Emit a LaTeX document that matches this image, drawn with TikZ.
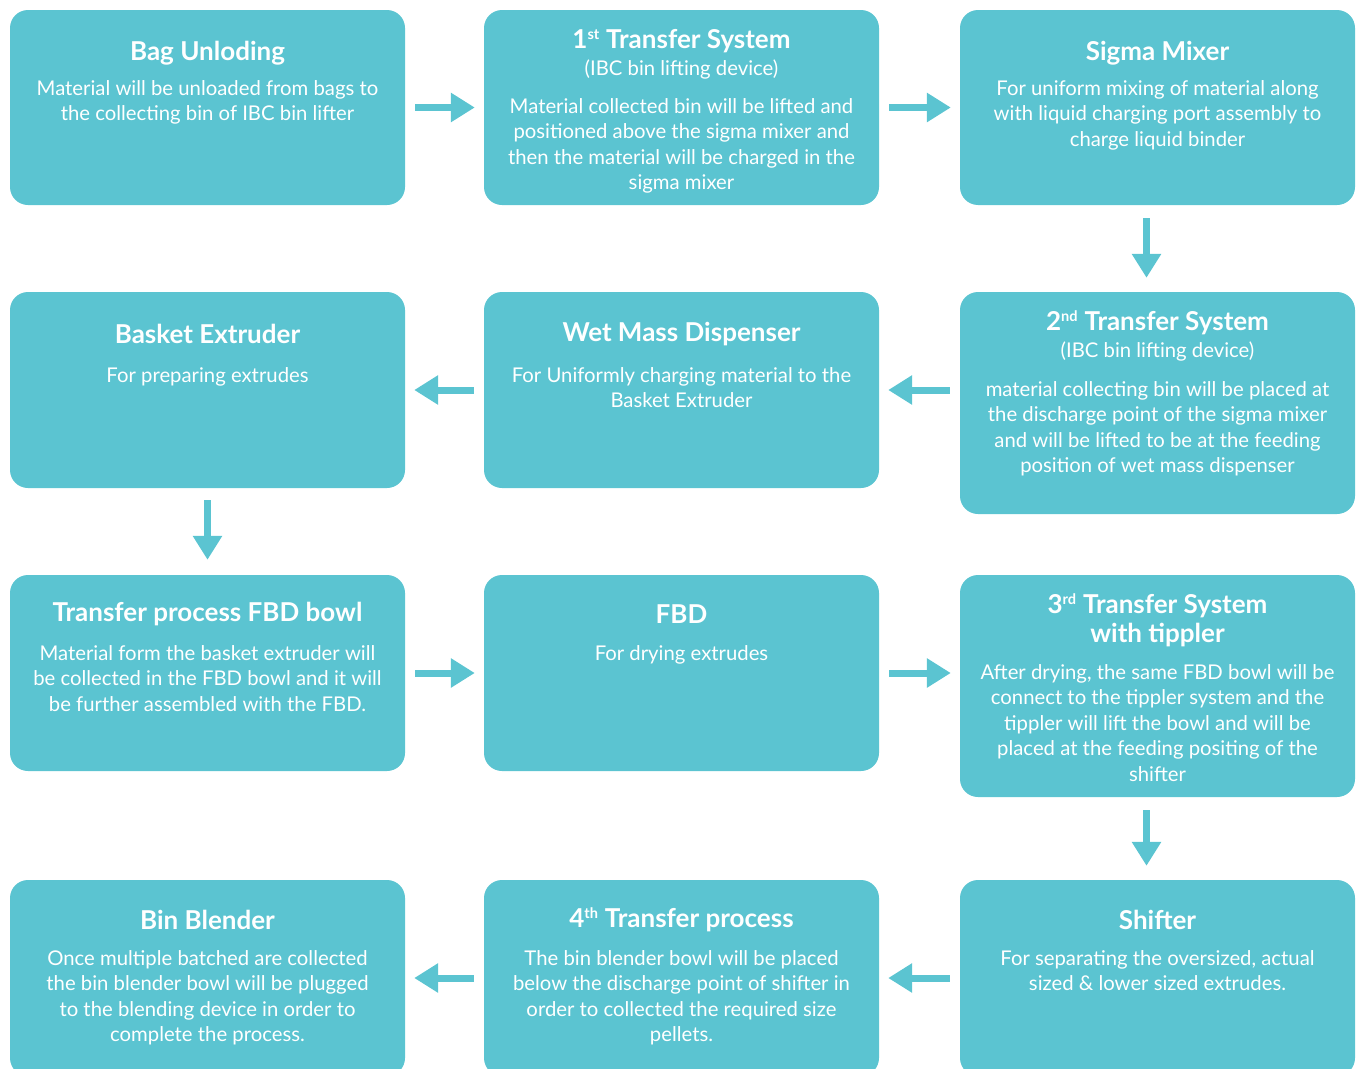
\documentclass[tikz,border=0pt]{standalone}
\usepackage{fontspec}
\setmainfont{Lato}
\usetikzlibrary{arrows.meta}
\definecolor{boxcol}{RGB}{91,196,209}
\newcommand{\sups}[1]{\textsuperscript{\scalebox{0.8}{#1}}}
\begin{document}
\begin{tikzpicture}[x=1pt,y=-1pt,
  box/.style={fill=boxcol,rounded corners=18pt,minimum width=395pt,inner sep=0pt},
  ttl/.style={text=white,font=\fontsize{26}{29}\selectfont\bfseries},
  sub/.style={text=white,font=\fontsize{20.3}{25.5}\selectfont},
  txt/.style={text=white,align=center,anchor=north,inner sep=0pt,font=\fontsize{20.3}{25.5}\selectfont},
  arr/.style={boxcol,line width=7pt,-{Triangle[length=24pt,width=28pt]}}]
\useasboundingbox (0,0) rectangle (1359,1068);
% row 1
\node[box,minimum height=195pt] (b1) at (207.5,107.5) {};
\node[box,minimum height=195pt] (b2) at (681.5,107.5) {};
\node[box,minimum height=195pt] (b3) at (1157.5,107.5) {};
% row 2
\node[box,minimum height=196pt] (b4) at (207.5,390) {};
\node[box,minimum height=196pt] (b5) at (681.5,390) {};
\node[box,minimum height=222pt] (b6) at (1157.5,403) {};
% row 3
\node[box,minimum height=196pt] (b7) at (207.5,673) {};
\node[box,minimum height=196pt] (b8) at (681.5,673) {};
\node[box,minimum height=222pt] (b9) at (1157.5,686) {};
% row 4
\node[box,minimum height=196pt] (b10) at (207.5,978) {};
\node[box,minimum height=196pt] (b11) at (681.5,978) {};
\node[box,minimum height=196pt] (b12) at (1157.5,978) {};

\node[ttl] (t1) at (207.5,53) {Bag Unloding};
\node[txt] (d1) at (207.5,80) {Material will be unloaded from bags to\\the collecting bin of IBC bin lifter};
\node[ttl] (t2) at (681.5,41) {1\sups{st} Transfer System};
\node[sub] (s2) at (681.5,69) {(IBC bin lifting device)};
\node[txt] (d2) at (681.5,98) {Material collected bin will be lifted and\\positioned above the sigma mixer and\\then the material will be charged in the\\sigma mixer};
\node[ttl] (t3) at (1157.5,53) {Sigma Mixer};
\node[txt] (d3) at (1157.5,80) {For uniform mixing of material along\\with liquid charging port assembly to\\charge liquid binder};

\node[ttl] (t4) at (207.5,334) {Basket Extruder};
\node[txt] (d4) at (207.5,367) {For preparing extrudes};
\node[ttl] (t5) at (681.5,334) {Wet Mass Dispenser};
\node[txt] (d5) at (681.5,367) {For Uniformly charging material to the\\Basket Extruder};
\node[ttl] (t6) at (1157.5,323) {2\sups{nd} Transfer System};
\node[sub] (s6) at (1157.5,351) {(IBC bin lifting device)};
\node[txt] (d6) at (1157.5,381) {material collecting bin will be placed at\\the discharge point of the sigma mixer\\and will be lifted to be at the feeding\\position of wet mass dispenser};

\node[ttl] (t7) at (207.5,614) {Transfer process FBD bowl};
\node[txt] (d7) at (207.5,645) {Material form the basket extruder will\\be collected in the FBD bowl and it will\\be further assembled with the FBD.};
\node[ttl] (t8) at (681.5,614) {FBD};
\node[txt] (d8) at (681.5,645) {For drying extrudes};
\node[ttl,align=center] (t9) at (1157.5,620) {3\sups{rd} Transfer System\\with tippler};
\node[txt] (d9) at (1157.5,664) {After drying, the same FBD bowl will be\\connect to the tippler system and the\\tippler will lift the bowl and will be\\placed at the feeding positing of the\\shifter};

\node[ttl] (t10) at (207.5,920) {Bin Blender};
\node[txt] (d10) at (207.5,950) {Once multiple batched are collected\\the bin blender bowl will be plugged\\to the blending device in order to\\complete the process.};
\node[ttl] (t11) at (681.5,920) {4\sups{th} Transfer process};
\node[txt] (d11) at (681.5,950) {The bin blender bowl will be placed\\below the discharge point of shifter in\\order to collected the required size\\pellets.};
\node[ttl] (t12) at (1157.5,920) {Shifter};
\node[txt] (d12) at (1157.5,950) {For separating the oversized, actual\\sized \& lower sized extrudes.};

% arrows
\draw[arr,shorten <=10pt,shorten >=9pt] (b1.east) -- (b2.west);
\draw[arr,shorten <=10pt,shorten >=9pt] (b2.east) -- (b3.west);
\draw[arr,shorten <=13pt,shorten >=14pt] ([xshift=-11pt]b3.south) -- ([xshift=-11pt]b6.north);
\draw[arr,shorten <=10pt,shorten >=9pt] (b6.west|-b5.center) -- (b5.east);
\draw[arr,shorten <=10pt,shorten >=9pt] (b5.west) -- (b4.east);
\draw[arr,shorten <=12pt,shorten >=15pt] (b4.south) -- (b7.north);
\draw[arr,shorten <=10pt,shorten >=9pt] (b7.east) -- (b8.west);
\draw[arr,shorten <=10pt,shorten >=9pt] (b8.east) -- (b9.west|-b8.center);
\draw[arr,shorten <=13pt,shorten >=14pt] ([xshift=-11pt]b9.south) -- ([xshift=-11pt]b12.north);
\draw[arr,shorten <=10pt,shorten >=9pt] (b12.west) -- (b11.east);
\draw[arr,shorten <=10pt,shorten >=9pt] (b11.west) -- (b10.east);
\end{tikzpicture}
\end{document}
